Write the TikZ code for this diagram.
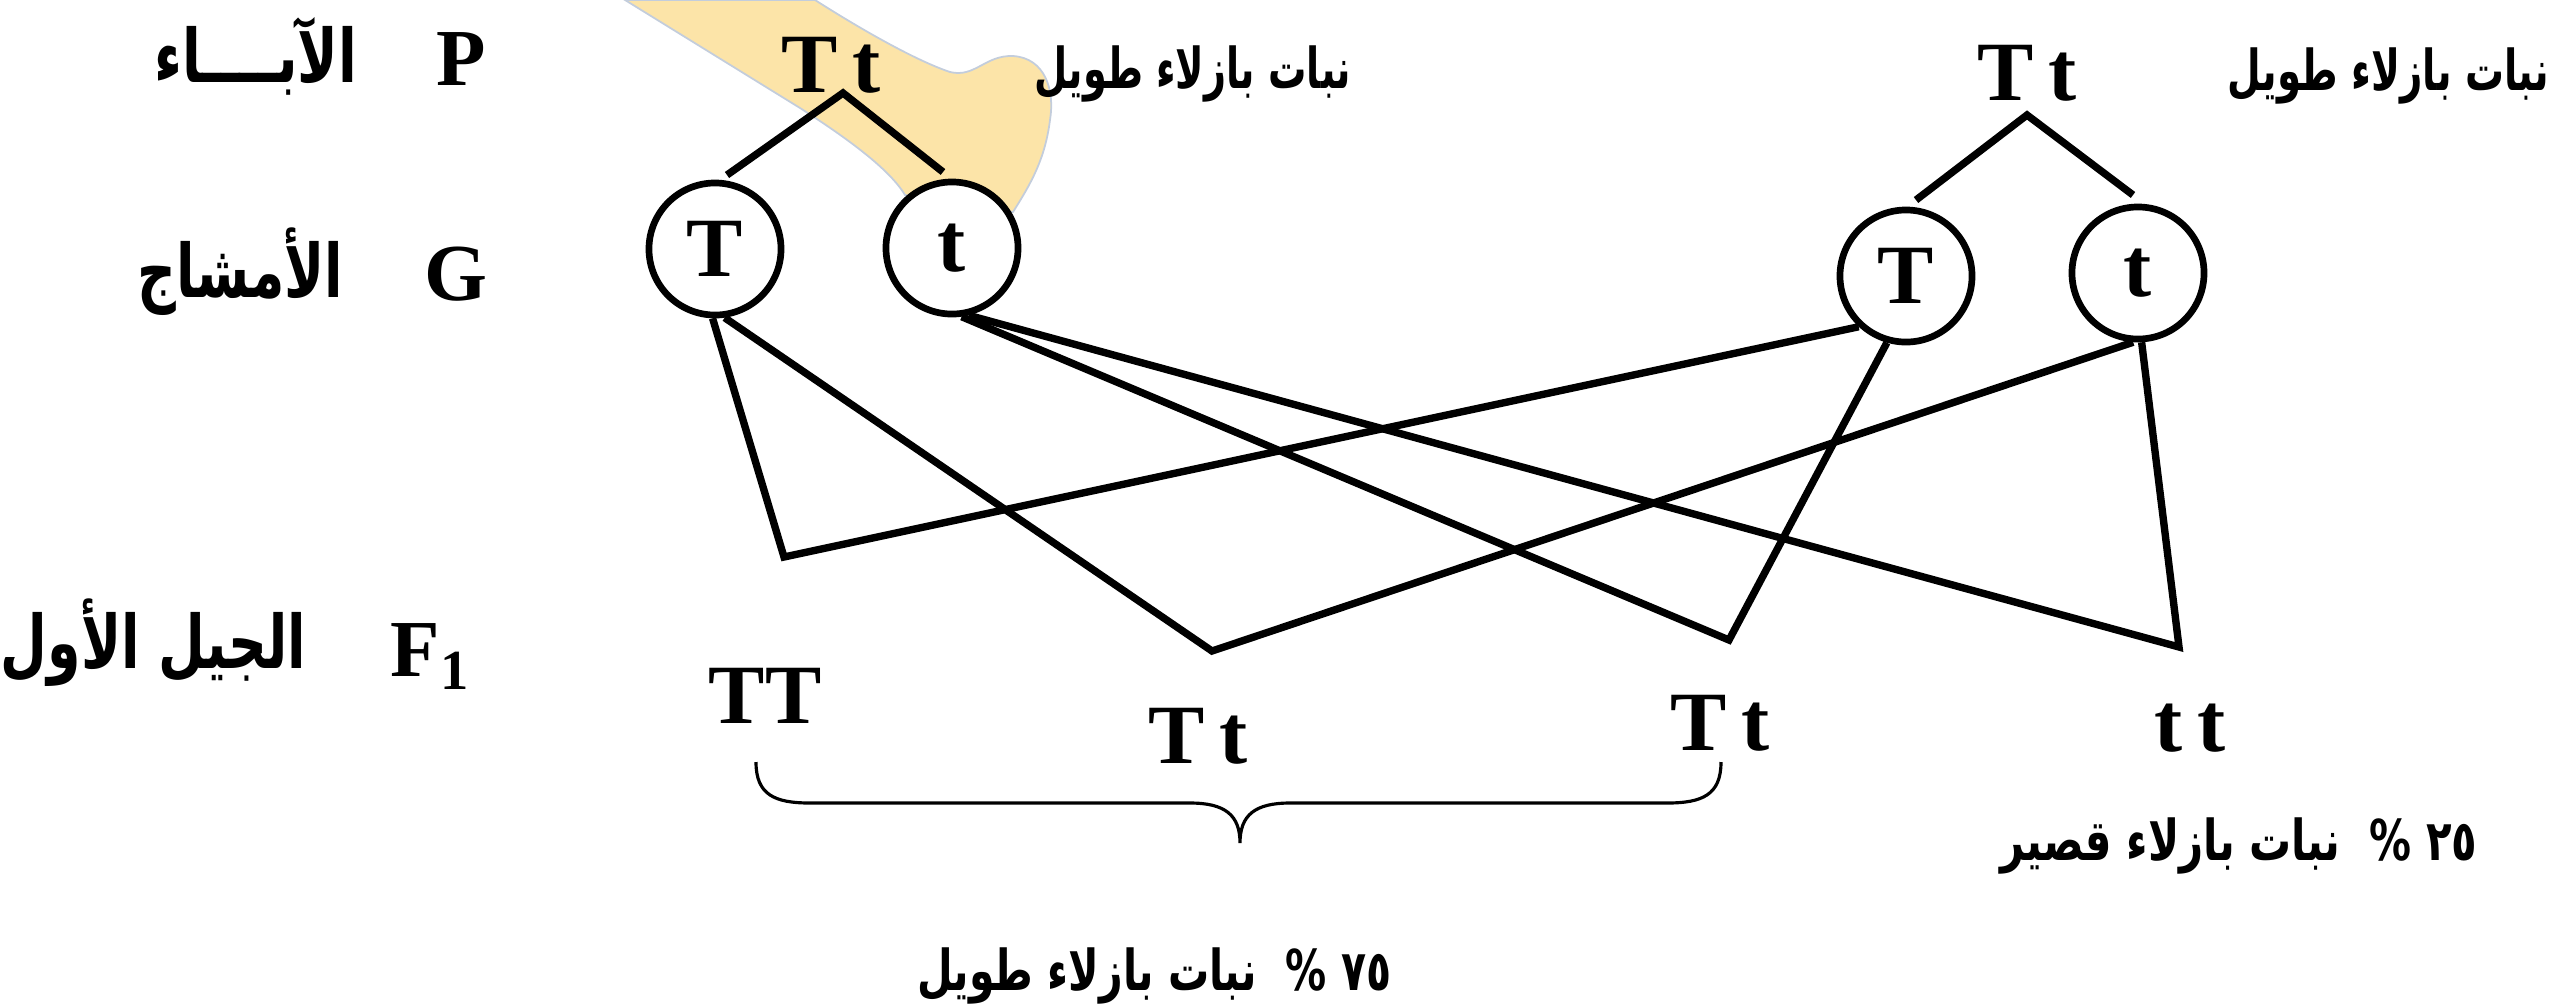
\documentclass[tikz,border=0pt]{standalone}
\usepackage{fontspec}
\usepackage{graphicx}
\setmainfont{Liberation Serif}
\newfontfamily\arabicfont[Script=Arabic]{DejaVu Sans}
\TeXXeTstate=1
\definecolor{hl}{RGB}{252,228,168}
\definecolor{hlline}{RGB}{195,205,220}
\begin{document}
\begin{tikzpicture}[x=0.01cm,y=-0.01cm,
  gen/.style={font=\fontsize{24}{28}\selectfont\bfseries, inner sep=0pt},
  lab/.style={font=\fontsize{23}{27}\selectfont\bfseries, inner sep=0pt},
  arL/.style={font=\arabicfont\bfseries\fontsize{21}{25}\selectfont, inner sep=0pt},
  arS/.style={font=\arabicfont\bfseries\fontsize{16}{20}\selectfont, inner sep=0pt},
  gam/.style={circle, draw, line width=1.9pt, fill=white, minimum size=1.32cm, inner sep=0pt, font=\fontsize{24}{28}\selectfont\bfseries},
  conn/.style={line width=2.1pt},
  bracestyle/.style={line width=0.9pt},
]
\useasboundingbox (0,0) rectangle (2557,1005);

% highlight shape
\filldraw[fill=hl, draw=hlline, line width=0.5pt]
  (625,0) -- (815,0) .. controls (870,35) and (920,62) .. (950,72)
  .. controls (975,78) and (985,55) .. (1013,56)
  .. controls (1045,58) and (1055,90) .. (1050,120)
  .. controls (1045,160) and (1030,185) .. (1013,212)
  -- (905,195) .. controls (890,170) and (850,140) .. (800,108) -- cycle;

% row labels
\node[lab, anchor=base] (P) at (461,85) {P};
\node[lab, anchor=base] (G) at (456,300) {G};
\node[lab, anchor=base west] (F) at (390,676) {F\textsubscript{1}};
\node[arL, anchor=base east] (aP) at (358,82) {\scalebox{0.74}[1]{\beginR الآبــــاء\endR}};
\node[arL, anchor=base east] (aG) at (344,297) {\scalebox{0.73}[1]{\beginR الأمشاج\endR}};
\node[arL, anchor=base east] (aF) at (307,668) {\scalebox{0.73}[1]{\beginR الجيل الأول\endR}};

% parents
\node[gen, anchor=base] (p1) at (831,92) {T\,t};
\node[gen, anchor=base] (p2) at (2027,100) {T\,t};
\node[arS, anchor=base east] (l1) at (1352,88) {\scalebox{0.68}[1]{\beginR نبات بازلاء طويل\endR}};
\node[arS, anchor=base east] (l2) at (2550,90) {\scalebox{0.69}[1]{\beginR نبات بازلاء طويل\endR}};

\coordinate (a1) at (843,93);
\coordinate (b1L) at (727,175);
\coordinate (b1R) at (943,172);
\coordinate (a2) at (2027,115);
\coordinate (b2L) at (1916,200);
\coordinate (b2R) at (2133,195);
\draw[conn] (b1L) -- (a1) -- (b1R);
\draw[conn] (b2L) -- (a2) -- (b2R);

% gametes
\node[gam] (T1) at (715,249) {T};
\node[gam] (t1) at (952,248) {t};
\node[gam] (T2) at (1906,276) {T};
\node[gam] (t2) at (2138,273) {t};

% crossing vertices
\coordinate (vTT) at (784,557);
\coordinate (vTt1) at (1212,651);
\coordinate (vTt2) at (1729,640);
\coordinate (vtt) at (2179,647);
\draw[conn] (T1.268) -- (vTT) -- (T2.227);
\draw[conn] (T1.278) -- (vTt1) -- (t2.266);
\draw[conn] (t1.278) -- (vTt2) -- (T2.254);
\draw[conn] (t1.284) -- (vtt) -- (t2.273);

% offspring
\node[gen, anchor=base] (oTT) at (765,723) {TT};
\node[gen, anchor=base] (oTt1) at (1198,763) {T\,t};
\node[gen, anchor=base] (oTt2) at (1720,750) {T\,t};
\node[gen, anchor=base] (ott) at (2190,751) {t\,t};

% brace
\coordinate (brL) at (756,762);
\coordinate (brTip) at (1240,843);
\coordinate (brR) at (1721,762);
\draw[bracestyle] (brL) .. controls (756,795) and (775,803) .. (810,803) -- (1190,803)
  .. controls (1225,803) and (1240,815) .. (brTip)
  .. controls (1240,815) and (1255,803) .. (1290,803) -- (1667,803)
  .. controls (1702,803) and (1721,795) .. (brR);

% percentages
\node[arS, anchor=base east] (pc75) at (1392,990) {\scalebox{0.73}[1]{\beginR ٧٥ \% ~نبات بازلاء طويل\endR}};
\node[arS, anchor=base east] (pc25) at (2478,860) {\scalebox{0.745}[1]{\beginR ٢٥ \% ~نبات بازلاء قصير\endR}};
\end{tikzpicture}
\end{document}
